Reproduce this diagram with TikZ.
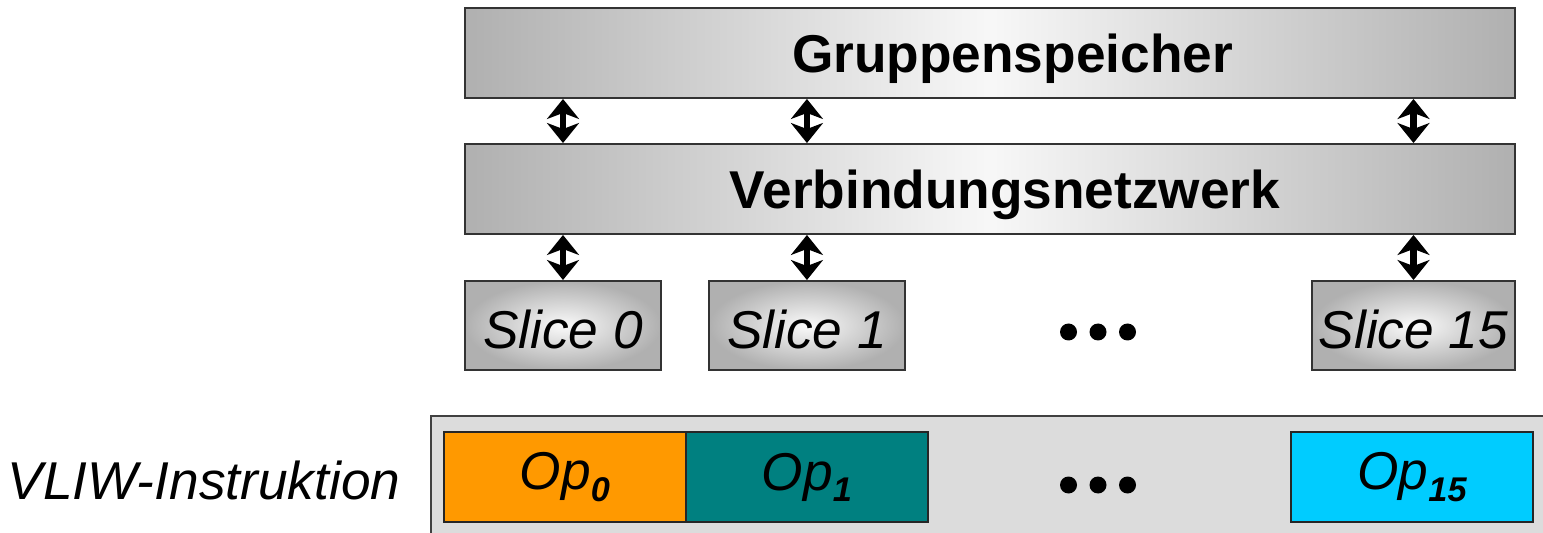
\documentclass[tikz,border=0pt]{standalone}
\usepackage{fontspec}
\setmainfont{Liberation Sans}
\usetikzlibrary{arrows.meta, positioning}
\definecolor{oporange}{HTML}{FF9900}
\definecolor{opteal}{HTML}{008080}
\definecolor{opcyan}{HTML}{00CCFF}
\definecolor{framegray}{HTML}{DCDCDC}

% operation with its slot number as a bold subscript
\newcommand{\opslot}[1]{Op\raisebox{-0.21em}{\fontsize{19.5}{20}\selectfont\bfseries #1}}

\begin{document}
\begin{tikzpicture}[
  node distance=9.2mm,
  bar/.style={rectangle, draw=black!80, line width=1.1pt,
              left color=gray!62, right color=gray!62, middle color=gray!6,
              minimum width=21cm, minimum height=1.8cm,
              text height=1.0cm, text depth=0.2cm,
              font=\fontsize{30.3}{35}\selectfont\bfseries},
  slice/.style={rectangle, draw=black!80, line width=1.1pt,
                shading=radial, inner color=gray!4, outer color=gray!62,
                minimum width=3.92cm, minimum height=1.78cm,
                text height=0.92cm, text depth=0cm,
                font=\fontsize{30.3}{35}\selectfont\itshape},
  op/.style={rectangle, draw=black!85, line width=0.9pt, outer sep=0pt,
             minimum width=4.84cm, minimum height=1.8cm,
             font=\fontsize{30.3}{35}\selectfont\itshape},
  link/.style={{Stealth[length=4mm, width=6.4mm, inset=1.2mm]}-{Stealth[length=4mm, width=6.4mm, inset=1.2mm]},
               line width=1.3mm, black}]
  \clip (0,0) rectangle (30.86,-10.66);

  % memory, network and the slices
  \node[bar] (mem) at (19.8,-1.06) {\hspace*{0.9cm}Gruppenspeicher};
  \node[bar] (net) at (19.8,-3.78) {\hspace*{0.6cm}Verbindungsnetzwerk};
  \node[slice] (s0) at (11.26,-6.51) {Slice 0};
  \node[slice, right=of s0] (s1) {Slice 1};
  \node[slice, minimum width=4.06cm] (s15) at (28.27,-6.51) {Slice 15};
  \node[inner sep=0pt, minimum size=0.5cm] (sdots) at (21.96,-6.64) {};
  \foreach \dx in {-0.59,0,0.59}
    \fill ([xshift=\dx cm]sdots.center) circle (0.17);

  \foreach \s in {s0, s1, s15} {
    \draw[link] (mem.south -| \s) -- (net.north -| \s);
    \draw[link] (net.south -| \s) -- (\s.north);
  }

  % instruction word
  \node[font=\fontsize{30.3}{35}\selectfont\itshape] (vliwlabel) at (4.08,-9.6) {VLIW-Instruktion};
  \node[rectangle, draw=black!75, line width=1.1pt, fill=framegray, anchor=north west,
        minimum width=24cm, minimum height=3cm] (vliw) at (8.6,-8.3) {};
  \node[op, fill=oporange] (op0) at (11.3,-9.54) {\opslot{0}};
  \node[op, fill=opteal, right=0pt of op0] (op1) {\opslot{1}};
  \node[op, fill=opcyan] (op15) at (28.24,-9.54) {\opslot{15}};
  \node[inner sep=0pt, minimum size=0.5cm] (odots) at (21.96,-9.7) {};
  \foreach \dx in {-0.59,0,0.59}
    \fill ([xshift=\dx cm]odots.center) circle (0.17);
\end{tikzpicture}
\end{document}
